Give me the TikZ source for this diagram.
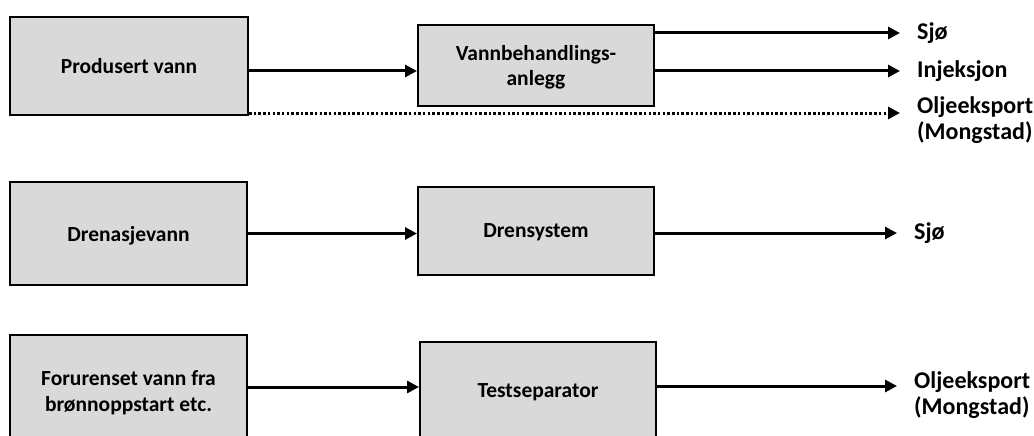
\documentclass[tikz,border=0pt]{standalone}
\usepackage{fontspec}
\setmainfont{Carlito}
\usetikzlibrary{arrows.meta}
\definecolor{boxgray}{RGB}{217,217,217}

\begin{document}
\begin{tikzpicture}[x=1pt, y=-1pt,
        box_style/.style={rectangle,draw=black,line width=2pt,fill=boxgray,inner sep=0pt,text depth=0pt,align=center,font=\bfseries\fontsize{21.5}{25.5}\selectfont},
        label_style/.style={anchor=west,inner sep=0pt,align=left,font=\bfseries\fontsize{24}{26}\selectfont},
        edge_style/.style={draw=black, line width=3pt, -{Triangle[length=12pt,width=12pt]}},
        out_edge_style/.style={edge_style, shorten >=17pt},
        dotted_edge_style/.style={out_edge_style, dash pattern=on 2.5pt off 2.2pt}]

        \useasboundingbox (0,0) rectangle (1034,436);
        \clip (0,0) rectangle (1034,436);

        \node [box_style, minimum width=238pt, minimum height=98pt](prod) at (129,66) {Produsert vann};
        \node [box_style, minimum width=236pt, minimum height=81pt](vann) at (536,65.5) {Vannbehandlings-\\anlegg};
        \node [box_style, minimum width=237pt, minimum height=103pt](drain) at (128.5,233.5) {Drenasjevann};
        \node [box_style, minimum width=236pt, minimum height=88pt](drens) at (536,231) {Drensystem};
        \node [box_style, minimum width=237pt, minimum height=112pt](forur) at (128.5,391) {Forurenset vann fra\\brønnoppstart etc.};
        \node [box_style, minimum width=236pt, minimum height=98pt](testsep) at (538,391) {Testseparator};

        \node [label_style](sjo1) at (917,33) {Sjø};
        \node [label_style](inj) at (917,71) {Injeksjon};
        \node [label_style](olje1) at (917,120) {Oljeeksport\\(Mongstad)};
        \node [label_style](sjo2) at (914,233) {Sjø};
        \node [label_style](olje2) at (914,395) {Oljeeksport\\(Mongstad)};

        \coordinate (dot_start) at ([yshift=3pt]prod.south east);
        \coordinate (test_in) at ([yshift=4pt]forur.east);
        \coordinate (test_out) at ([yshift=9pt]olje2.west);

        \draw [edge_style] (prod.east |- inj) -- (vann.west |- inj);
        \draw [out_edge_style] (vann.east |- sjo1) -- (sjo1.west);
        \draw [out_edge_style] (vann.east |- inj) -- (inj.west);
        \draw [dotted_edge_style] (dot_start) -- (dot_start -| olje1.west);
        \draw [edge_style] (drain.east) -- (drain.east -| drens.west);
        \draw [out_edge_style] (drens.east |- sjo2) -- (sjo2.west);
        \draw [edge_style] (test_in) -- (test_in -| testsep.west);
        \draw [out_edge_style] (testsep.east |- test_out) -- (test_out);
\end{tikzpicture}
\end{document}
